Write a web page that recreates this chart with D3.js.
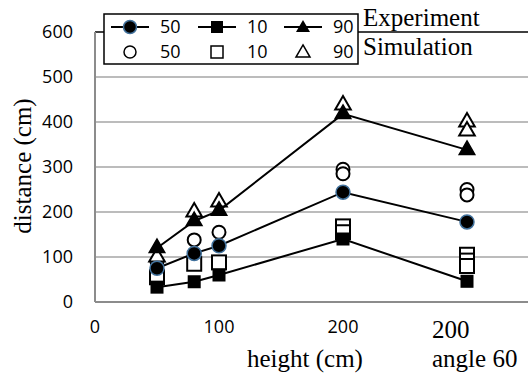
<!DOCTYPE html>
<html>
<head>
<meta charset="utf-8">
<script src="https://cdn.jsdelivr.net/npm/d3@7"></script>
<style>
  body { margin: 0; background: #fff; }
</style>
</head>
<body>
<div id="chart"></div>
<script>
// x positions (300 stands for the "200 / angle 60" case)
const heights = [50, 80, 100, 200, 300];
const exp50 = [75, 108, 125, 244, 178];
const exp10 = [33, 45, 60, 140, 46];
const exp90 = [120, 180, 203, 418, 338];

const sim50X = [50, 80, 100, 200, 200, 300, 300];
const sim50Y = [90, 138, 155, 295, 285, 250, 238];
const sim10X = [50, 80, 100, 200, 200, 300, 300, 300];
const sim10Y = [55, 85, 88, 168, 155, 105, 92, 80];
const sim90X = [50, 80, 100, 200, 300, 300];
const sim90Y = [100, 200, 222, 438, 400, 380];

const yTicks = [0, 100, 200, 300, 400, 500, 600];
const xTicks = [0, 100, 200];
const legendLabels = ['50', '10', '90'];

const W = 528, H = 379;
const SERIF = "'Liberation Serif', 'Times New Roman', serif";
const SANS = "'Open Sans', 'Liberation Sans', sans-serif";

const svg = d3.select('#chart').append('svg')
  .attr('width', W).attr('height', H);

const x = d3.scaleLinear().domain([0, 350]).range([95, 529]);
const y = d3.scaleLinear().domain([0, 600]).range([302, 32]);

// gridlines
svg.append('g').selectAll('line')
  .data(yTicks.filter(d => d > 0))
  .enter().append('line')
  .attr('x1', x(0)).attr('x2', W)
  .attr('y1', d => y(d)).attr('y2', d => y(d))
  .attr('stroke', d => d === 600 ? '#000' : '#a6a6a6')
  .attr('stroke-width', 1.5);

// axes lines
svg.append('line')
  .attr('x1', x(0)).attr('x2', x(0)).attr('y1', y(600)).attr('y2', y(0))
  .attr('stroke', '#8c8c8c').attr('stroke-width', 2);
svg.append('line')
  .attr('x1', x(0)).attr('x2', W).attr('y1', y(0)).attr('y2', y(0))
  .attr('stroke', '#8c8c8c').attr('stroke-width', 2);

// tick labels
svg.append('g').selectAll('text')
  .data(yTicks).enter().append('text')
  .attr('x', 73).attr('y', d => y(d)).attr('dy', '0.35em')
  .attr('text-anchor', 'end')
  .style('font-family', SANS).style('font-size', '18px')
  .text(d => d);
svg.append('g').selectAll('text')
  .data(xTicks).enter().append('text')
  .attr('x', d => x(d)).attr('y', 327).attr('dy', '0.35em')
  .attr('text-anchor', 'middle')
  .style('font-family', SANS).style('font-size', '18px')
  .text(d => d);

// axis titles and notes
svg.append('text').attr('x', 247).attr('y', 367)
  .style('font-family', SERIF).style('font-size', '25px').text('height (cm)');
svg.append('text').attr('x', 432).attr('y', 338)
  .style('font-family', SERIF).style('font-size', '25px').text('200');
svg.append('text').attr('x', 432).attr('y', 367)
  .style('font-family', SERIF).style('font-size', '25px').text('angle 60');
svg.append('text')
  .attr('transform', 'translate(31,166) rotate(-90)')
  .attr('text-anchor', 'middle')
  .style('font-family', SERIF).style('font-size', '25px').text('distance (cm)');

const tri = d3.symbol().type(d3.symbolTriangle).size(105);

function hollow(g, xs, ys, shape) {
  const pts = xs.map((v, i) => ({x: v, y: ys[i]}));
  const sel = g.selectAll(null).data(pts).enter();
  if (shape === 'circle') {
    sel.append('circle').attr('cx', d => x(d.x)).attr('cy', d => y(d.y)).attr('r', 6.5)
      .attr('fill', '#fff').attr('stroke', '#000').attr('stroke-width', 2);
  } else if (shape === 'square') {
    sel.append('rect').attr('x', d => x(d.x) - 7).attr('y', d => y(d.y) - 7)
      .attr('width', 14).attr('height', 14)
      .attr('fill', '#fff').attr('stroke', '#000').attr('stroke-width', 2);
  } else {
    sel.append('path').attr('d', tri)
      .attr('transform', d => 'translate(' + x(d.x) + ',' + y(d.y) + ')')
      .attr('fill', '#fff').attr('stroke', '#000').attr('stroke-width', 2);
  }
}

function filled(g, ys, shape) {
  const pts = heights.map((v, i) => ({x: v, y: ys[i]}));
  g.append('path').datum(pts)
    .attr('d', d3.line().x(d => x(d.x)).y(d => y(d.y)))
    .attr('fill', 'none').attr('stroke', '#000').attr('stroke-width', 2);
  const sel = g.selectAll(null).data(pts).enter();
  if (shape === 'circle') {
    sel.append('circle').attr('cx', d => x(d.x)).attr('cy', d => y(d.y)).attr('r', 7)
      .attr('fill', '#000').attr('stroke', '#41719c').attr('stroke-width', 1.5);
  } else if (shape === 'square') {
    sel.append('rect').attr('x', d => x(d.x) - 6.5).attr('y', d => y(d.y) - 6.5)
      .attr('width', 13).attr('height', 13).attr('fill', '#000');
  } else {
    sel.append('path').attr('d', tri)
      .attr('transform', d => 'translate(' + x(d.x) + ',' + y(d.y) + ')')
      .attr('fill', '#000').attr('stroke', '#000').attr('stroke-width', 1.5);
  }
}

const plot = svg.append('g');
hollow(plot.append('g'), sim50X, sim50Y, 'circle');
hollow(plot.append('g'), sim10X, sim10Y, 'square');
hollow(plot.append('g'), sim90X, sim90Y, 'triangle');
filled(plot.append('g'), exp50, 'circle');
filled(plot.append('g'), exp10, 'square');
filled(plot.append('g'), exp90, 'triangle');

// legend
const lg = svg.append('g');
lg.append('rect').attr('x', 104).attr('y', 14).attr('width', 254).attr('height', 50)
  .attr('fill', '#fff').attr('stroke', '#000').attr('stroke-width', 1.5);
const itemX = [130, 217, 303];
const shapes = ['circle', 'square', 'triangle'];
itemX.forEach((cx, i) => {
  lg.append('line').attr('x1', cx - 19).attr('x2', cx + 19).attr('y1', 27).attr('y2', 27)
    .attr('stroke', '#000').attr('stroke-width', 2);
  const s = shapes[i];
  if (s === 'circle') {
    lg.append('circle').attr('cx', cx).attr('cy', 27).attr('r', 6.5)
      .attr('fill', '#000').attr('stroke', '#41719c').attr('stroke-width', 1.5);
    lg.append('circle').attr('cx', cx).attr('cy', 52).attr('r', 6)
      .attr('fill', '#fff').attr('stroke', '#000').attr('stroke-width', 1.5);
  } else if (s === 'square') {
    lg.append('rect').attr('x', cx - 6).attr('y', 21).attr('width', 12).attr('height', 12).attr('fill', '#000');
    lg.append('rect').attr('x', cx - 6).attr('y', 46).attr('width', 12).attr('height', 12)
      .attr('fill', '#fff').attr('stroke', '#000').attr('stroke-width', 1.5);
  } else {
    const t = d3.symbol().type(d3.symbolTriangle).size(85);
    lg.append('path').attr('d', t).attr('transform', 'translate(' + cx + ',28)').attr('fill', '#000');
    lg.append('path').attr('d', t).attr('transform', 'translate(' + cx + ',53)')
      .attr('fill', '#fff').attr('stroke', '#000').attr('stroke-width', 1.5);
  }
  lg.append('text').attr('x', cx + 30).attr('y', 27).attr('dy', '0.35em')
    .style('font-family', SANS).style('font-size', '18px').text(legendLabels[i]);
  lg.append('text').attr('x', cx + 30).attr('y', 52).attr('dy', '0.35em')
    .style('font-family', SANS).style('font-size', '18px').text(legendLabels[i]);
});

svg.append('text').attr('x', 363).attr('y', 26)
  .style('font-family', SERIF).style('font-size', '25px').text('Experiment');
svg.append('text').attr('x', 363).attr('y', 55)
  .style('font-family', SERIF).style('font-size', '25px').text('Simulation');
</script>
</body>
</html>
